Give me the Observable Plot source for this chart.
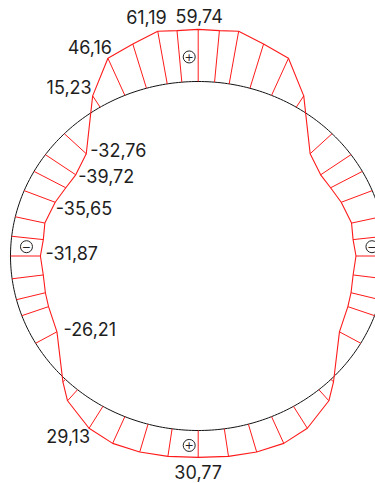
<!DOCTYPE html>
<html>
<head>
<meta charset="utf-8">
<script src="https://cdn.jsdelivr.net/npm/d3@7"></script>
<script src="https://cdn.jsdelivr.net/npm/@observablehq/plot@0.6"></script>
<style>
  html, body { margin: 0; padding: 0; background: #fff; }
  #chart svg { display: block; }
  #chart text.value-label { letter-spacing: -1.1px; }
</style>
</head>
<body>
<div id="chart"></div>
<script>
// Pressure profile round the circular section; it is symmetric about the vertical axis.
// Angles in degrees from the top, going round the left side down to the bottom.
const angles = [0, 5, 9.5, 16, 23, 31.5, 45.5, 54.5, 61, 68, 77, 83.5, 90, 97.5, 104.5, 110, 120, 135, 140, 149.5, 157, 164.5, 172, 180];
const pressures = [59.74, 59.3, 61.19, 52.7, 46.16, 15.23, -32.76, -39.72, -38.7, -35.65, -32.3, -33.9, -31.87, -33.5, -31.8, -30.3, -26.21, 3.9, 16.6, 29.13, 33.3, 33.1, 31.9, 30.77];

// Values written beside the profile
const labelledValues = [59.74, 61.19, 46.16, 15.23, -32.76, -39.72, -35.65, -31.87, -26.21, 29.13, 30.77];

// Sign of the pressure at the four main rays
const signAngles = [0, 180, 90, 270];
const signSymbols = ["+", "+", "−", "−"];

// Pressure units per radius of the section
const UNITS_PER_RADIUS = 200;

const rad = (a) => (a * Math.PI) / 180;
const point = (a, v) => {
  const r = 1 + v / UNITS_PER_RADIUS;
  return { x: -r * Math.sin(rad(a)), y: r * Math.cos(rad(a)) };
};

const leftHalf = angles.map((a, i) => ({ angle: a, value: pressures[i] }));
const rightHalf = leftHalf.slice(1, -1).reverse().map((d) => ({ angle: 360 - d.angle, value: d.value }));
const profile = [...leftHalf, ...rightHalf];

const rays = profile.map((d) => {
  const b = point(d.angle, 0), t = point(d.angle, d.value);
  return { ...d, x1: b.x, y1: b.y, x2: t.x, y2: t.y };
});
const outline = [...rays, rays[0]].map((d) => ({ x: d.x2, y: d.y2 }));
const circle = d3.range(0, 361, 1).map((a) => point(a, 0));

// Label placement beside each tip (anchor and pixel offsets)
const labelLayout = {
  "59.74": { anchor: "middle", dx: 1, dy: -12 },
  "61.19": { anchor: "end", dx: 9, dy: -13 },
  "46.16": { anchor: "end", dx: 4, dy: -10 },
  "15.23": { anchor: "end", dx: -1, dy: -8 },
  "-32.76": { anchor: "start", dx: 4, dy: -2 },
  "-39.72": { anchor: "start", dx: 2.5, dy: 2 },
  "-35.65": { anchor: "start", dx: 0.5, dy: 7 },
  "-31.87": { anchor: "start", dx: 5, dy: -1.5 },
  "-26.21": { anchor: "start", dx: 6.5, dy: -1.5 },
  "29.13": { anchor: "end", dx: 1, dy: 9 },
  "30.77": { anchor: "middle", dx: 0, dy: 15.5 }
};

const fmt = (v) => v.toFixed(2).replace(".", ",");
const labels = labelledValues.map((v) => {
  const d = leftHalf.find((e) => e.value === v);
  const p = point(d.angle, d.value);
  return { x: p.x, y: p.y, text: fmt(v), ...labelLayout[String(v)] };
});

const signs = signAngles.map((a, i) => {
  const d = profile.find((e) => e.angle === a);
  const p = point(a, d.value / 2);
  return { x: p.x, y: p.y, sign: signSymbols[i], vertical: a === 0 || a === 180 };
});

const textStyle = { fontFamily: "Inter, 'Open Sans', sans-serif", fontSize: 18, fill: "#1e1e1e", className: "value-label" };
const labelMarks = ["start", "middle", "end"].flatMap((anchor) =>
  [...new Set(labels.filter((l) => l.anchor === anchor).map((l) => `${l.dx}|${l.dy}`))].map((key) => {
    const [dx, dy] = key.split("|").map(Number);
    return Plot.text(labels.filter((l) => l.anchor === anchor && l.dx === dx && l.dy === dy), {
      x: "x", y: "y", text: "text", textAnchor: anchor, dx, dy, ...textStyle
    });
  })
);

const signMark = (filter, dx, dy) => [
  Plot.dot(signs.filter(filter), { x: "x", y: "y", r: 6, stroke: "#222", strokeWidth: 1, fill: "white", dx, dy }),
  Plot.text(signs.filter(filter), { x: "x", y: "y", text: "sign", dx, dy: dy + 0.5, fontSize: 11, fontFamily: "'DejaVu Sans', sans-serif", fill: "#222" })
];

const chart = Plot.plot({
  width: 375,
  height: 483,
  margin: 0,
  x: { domain: [-1.0533, 0.9446], axis: null },
  y: { domain: [-1.3037, 1.4642], axis: null },
  marks: [
    Plot.line(circle, { x: "x", y: "y", stroke: "#111", strokeWidth: 1 }),
    Plot.link(rays, { x1: "x1", y1: "y1", x2: "x2", y2: "y2", stroke: "#ff1a1a", strokeWidth: 1 }),
    Plot.line(outline, { x: "x", y: "y", stroke: "#ff1a1a", strokeWidth: 1.1 }),
    ...signMark((d) => d.vertical, -9, 1.5),
    ...signMark((d) => !d.vertical, 1, -9.3),
    ...labelMarks
  ]
});

document.getElementById("chart").append(chart);
</script>
</body>
</html>
